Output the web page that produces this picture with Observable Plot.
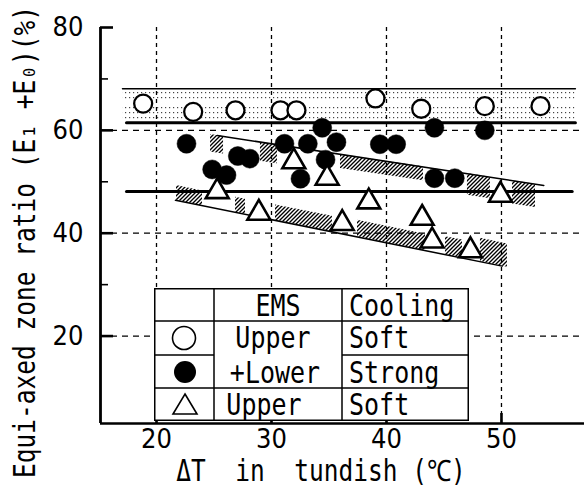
<!DOCTYPE html>
<html><head><meta charset="utf-8">
<script src="https://cdn.jsdelivr.net/npm/d3@7"></script>
<script src="https://cdn.jsdelivr.net/npm/@observablehq/plot@0.6"></script>
<style>
body{margin:0;background:#fff;}
#wrap{position:relative;width:584px;height:488px;overflow:hidden;background:#fff;}
#wrap svg.plot{position:absolute;left:0;top:0;}
.mono{position:absolute;font-family:"DejaVu Sans Mono",monospace;white-space:pre;color:#000;font-size:25px;height:30px;line-height:30px;transform:scaleY(1.2);}
#ytitle{position:absolute;font-family:"DejaVu Sans Mono",monospace;white-space:pre;color:#000;font-size:24.5px;width:480px;height:30px;line-height:30px;text-align:center;left:-215px;top:227px;transform:rotate(-90deg) scaleY(1.2);}
#xtitle{position:absolute;font-family:"DejaVu Sans Mono",monospace;white-space:pre;color:#000;font-size:24.5px;width:340px;height:30px;line-height:30px;text-align:center;left:151px;top:456px;transform:scaleY(1.2);}
#legend{position:absolute;left:154px;top:288px;width:315px;height:133px;background:#fff;}
#legend svg{position:absolute;left:0;top:0;}
</style></head>
<body><div id="wrap"></div>
<script>
// ---- scales / ticks ----
const xDomain = [15.13, 57.22];
const yDomain = [3, 80];
const xTicks = [20, 30, 40, 50];
const yTicks = [20, 40, 60, 80];
const yMinorTicks = [30, 50, 70];
const yGrid = [20, 40, 60];

// ---- data: Upper+Lower EMS, soft cooling (open circles) ----
const openX = [18.84, 23.19, 26.87, 30.78, 32.17, 39.04, 43.02, 48.55, 53.39];
const openY = [65.2, 63.6, 63.9, 63.9, 63.9, 66.2, 64.2, 64.7, 64.7];
// ---- Upper+Lower EMS, strong cooling (filled circles) ----
const solidX = [22.61, 24.84, 26.09, 27.07, 28.11, 31.13, 32.52, 33.16, 34.41, 34.70, 35.65, 39.42, 40.84, 44.17, 44.17, 45.94, 48.55];
const solidY = [57.4, 52.4, 51.3, 55.0, 54.5, 57.4, 50.6, 57.4, 60.5, 54.3, 57.7, 57.3, 57.3, 60.5, 50.7, 50.7, 60.0];
// ---- Upper EMS, soft cooling (triangles) ----
const triX = [25.28, 28.90, 31.94, 34.84, 36.15, 38.46, 43.10, 43.97, 47.30, 49.91];
const triY = [48.7, 44.5, 54.5, 51.3, 42.5, 46.7, 43.5, 39.1, 37.2, 48.0];

// ---- trend / band lines ----
const openTopX = [17.04, 56.43], openTopY = [68.1, 68.1];
const openBotX = [17.39, 56.43], openBotY = [61.5, 61.5];
const solidMeanX = [17.39, 56.15], solidMeanY = [48.1, 48.1];
const solidSlopeX = [25.28, 53.68], solidSlopeY = [59.0, 49.3];
const triSlopeX = [21.65, 50.06], triSlopeY = [46.4, 33.6];

// ---- stippled band (open circles) ----
const stipX1 = [17.1, 17.1], stipX2 = [56.4, 56.4];
const stipY1 = [65.9, 61.8], stipY2 = [67.7, 64.7];

// ---- hatched bands ----
const hatchSolidX = [[24.7, 25.83], [29.04, 30.52], [36.0, 43.22], [47.04, 49.04], [50.96, 52.96]];
const hatchSolidTop = [[59.2, 58.8], [57.7, 57.2], [55.3, 52.9], [51.6, 50.9], [50.2, 49.5]];
const hatchSolidBot = [[55.8, 55.4], [54.0, 53.5], [52.6, 50.2], [47.4, 46.7], [45.7, 45.0]];
const hatchTriX = [[21.74, 24.0], [26.87, 27.74], [30.35, 35.30], [37.48, 43.39], [45.13, 46.61], [48.17, 50.52]];
const hatchTriBot = [[46.4, 45.3], [44.1, 43.7], [42.5, 40.3], [39.3, 36.6], [35.8, 35.2], [34.5, 33.4]];
const hatchTriTop = [[49.3, 48.2], [47.0, 46.6], [45.5, 43.3], [42.5, 39.8], [39.3, 38.7], [39.0, 37.9]];

// ---- text ----
const yTitle = "Equi-axed zone ratio (E\u2081 +E\u2080)(%)";
const xTitle = "\u0394T  in  tundish (\u2103)";
const legendHeader = ["EMS", "Cooling"];
const legendEMS = ["Upper", "+Lower", "Upper"];
const legendCooling = ["Soft", "Strong", "Soft"];

// ---- build ----
const pts = (xs, ys) => xs.map((x, i) => ({x, y: ys[i]}));
const segRows = (xs, a, b) => xs.flatMap((seg, s) => seg.map((x, i) => ({seg: s, x, y1: a[s][i], y2: b[s][i]})));
const stipRows = stipX1.map((x1, i) => ({x1, x2: stipX2[i], y1: stipY1[i], y2: stipY2[i]}));

function defs() {
  const d = d3.create("svg:defs");
  const h = d.append("pattern").attr("id", "hatch").attr("patternUnits", "userSpaceOnUse").attr("width", 4).attr("height", 4);
  h.append("path").attr("d", "M-1,1L1,-1M0,4L4,0M3,5L5,3").attr("stroke", "#000").attr("stroke-width", 1.35);
  const s = d.append("pattern").attr("id", "stip").attr("patternUnits", "userSpaceOnUse").attr("width", 4).attr("height", 5);
  s.append("rect").attr("x", 1).attr("y", 2).attr("width", 1.2).attr("height", 1.2).attr("fill", "#444");
  return d.node();
}

const tickFont = {fontFamily: "'Liberation Sans Narrow','DejaVu Sans Condensed','DejaVu Sans',sans-serif", fontSize: 27, fontStretch: "condensed"};

const plot = Plot.plot({
  width: 584, height: 488,
  marginLeft: 100, marginRight: 0, marginTop: 27, marginBottom: 65,
  x: {domain: xDomain, axis: null},
  y: {domain: yDomain, axis: null},
  style: {background: "transparent", color: "black", overflow: "visible"},
  marks: [
    defs,
    Plot.gridX(xTicks, {stroke: "black", strokeOpacity: 1, strokeWidth: 1.3, strokeDasharray: "4,4"}),
    Plot.gridY(yGrid, {stroke: "black", strokeOpacity: 1, strokeWidth: 1.3, strokeDasharray: "6,5"}),
    Plot.rect(stipRows, {x1: "x1", x2: "x2", y1: "y1", y2: "y2", fill: "url(#stip)"}),
    Plot.areaY(segRows(hatchSolidX, hatchSolidBot, hatchSolidTop), {x: "x", y1: "y1", y2: "y2", z: "seg", fill: "url(#hatch)"}),
    Plot.areaY(segRows(hatchTriX, hatchTriBot, hatchTriTop), {x: "x", y1: "y1", y2: "y2", z: "seg", fill: "url(#hatch)"}),
    Plot.line(pts(openTopX, openTopY), {x: "x", y: "y", stroke: "black", strokeWidth: 1.4}),
    Plot.line(pts(openBotX, openBotY), {x: "x", y: "y", stroke: "black", strokeWidth: 3}),
    Plot.line(pts(solidMeanX, solidMeanY), {x: "x", y: "y", stroke: "black", strokeWidth: 3}),
    Plot.line(pts(solidSlopeX, solidSlopeY), {x: "x", y: "y", stroke: "black", strokeWidth: 1.5}),
    Plot.line(pts(triSlopeX, triSlopeY), {x: "x", y: "y", stroke: "black", strokeWidth: 1.5}),
    Plot.ruleX([xDomain[0]], {stroke: "black", strokeWidth: 2.8}),
    Plot.ruleY([yDomain[0]], {stroke: "black", strokeWidth: 2.6}),
    Plot.axisY({ticks: yTicks, tickSize: -13, tickFormat: () => "", strokeWidth: 2.6, label: null}),
    Plot.axisY({ticks: yMinorTicks, tickSize: -8, tickFormat: () => "", strokeWidth: 1.6, label: null}),
    Plot.axisY({ticks: yTicks, tickSize: 0, tickPadding: 17, label: null, ...tickFont}),
    Plot.axisX({ticks: xTicks, tickSize: -10, tickFormat: () => "", strokeWidth: 2.6, label: null}),
    Plot.axisX({ticks: xTicks, tickSize: 0, tickPadding: 5, label: null, ...tickFont}),
    Plot.dot(pts(openX, openY), {x: "x", y: "y", r: 9, fill: "white", stroke: "black", strokeWidth: 2.3}),
    Plot.dot(pts(solidX, solidY), {x: "x", y: "y", r: 9.5, fill: "black", stroke: "black", strokeWidth: 0.5}),
    Plot.dot(pts(triX, triY), {x: "x", y: "y", r: 8.5, symbol: "triangle", dy: 3, fill: "white", stroke: "black", strokeWidth: 2.6})
  ]
});
plot.classList.add("plot");
const wrap = document.getElementById("wrap");
wrap.appendChild(plot);

// titles
const yt = document.createElement("div"); yt.id = "ytitle"; yt.textContent = yTitle; wrap.appendChild(yt);
const xt = document.createElement("div"); xt.id = "xtitle"; xt.textContent = xTitle; wrap.appendChild(xt);

// legend table
const lg = document.createElement("div"); lg.id = "legend"; wrap.appendChild(lg);
const ls = d3.select(lg).append("svg").attr("width", 315).attr("height", 133);
const L = (x1, y1, x2, y2) => ls.append("line").attr("x1", x1).attr("y1", y1).attr("x2", x2).attr("y2", y2).attr("stroke", "black").attr("stroke-width", 1.5);
ls.append("rect").attr("x", 0.75).attr("y", 0.75).attr("width", 313.5).attr("height", 131.5).attr("fill", "white").attr("stroke", "black").attr("stroke-width", 1.5);
L(60, 0, 60, 133); L(188, 0, 188, 133);
L(0, 33, 315, 33); L(0, 67, 60, 67); L(188, 67, 315, 67); L(0, 100, 315, 100);
ls.append("circle").attr("cx", 30).attr("cy", 50).attr("r", 11.5).attr("fill", "white").attr("stroke", "black").attr("stroke-width", 1.6);
ls.append("circle").attr("cx", 31).attr("cy", 84).attr("r", 11).attr("fill", "black");
ls.append("path").attr("d", "M31,106 L43,126 L19,126 Z").attr("fill", "white").attr("stroke", "black").attr("stroke-width", 1.6);

function txt(s, x, cy, align) {
  const d = document.createElement("div");
  d.className = "mono"; d.textContent = s;
  d.style.top = (cy - 15) + "px";
  if (align === "center") { d.style.width = "160px"; d.style.textAlign = "center"; d.style.left = (x - 80) + "px"; }
  else d.style.left = x + "px";
  lg.appendChild(d);
}
txt(legendHeader[0], 124, 18, "center");
txt(legendHeader[1], 195, 18, "left");
txt(legendEMS[0], 119, 50, "center");
txt(legendEMS[1], 121, 85, "center");
txt(legendEMS[2], 110, 117, "center");
txt(legendCooling[0], 195, 50, "left");
txt(legendCooling[1], 195, 85, "left");
txt(legendCooling[2], 195, 117, "left");
</script>
</body></html>
